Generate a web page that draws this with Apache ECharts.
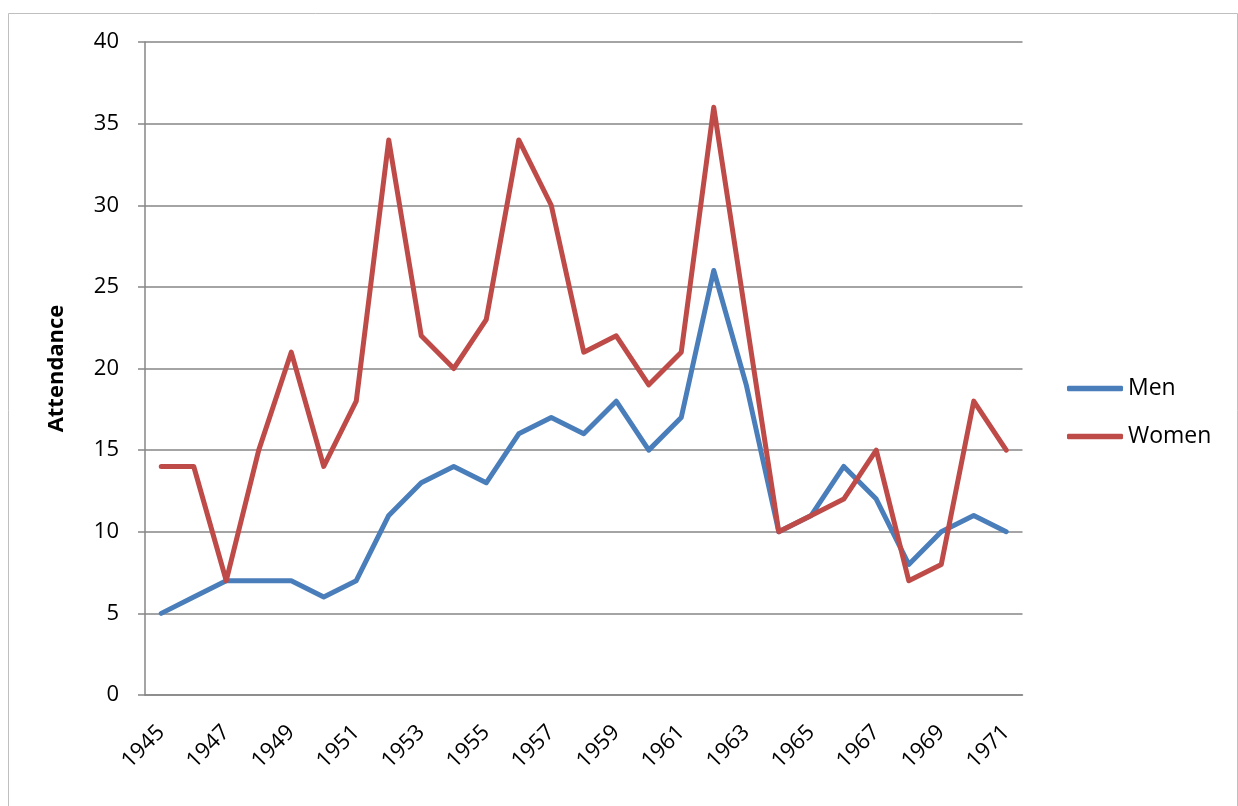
<!DOCTYPE html>
<html>
<head>
<meta charset="utf-8">
<script src="https://cdn.jsdelivr.net/npm/echarts@6/dist/echarts.min.js"></script>
<style>html,body{margin:0;padding:0;background:#fff}#c{width:1238px;height:806px}</style>
</head>
<body>
<div id="c"></div>
<script>
const years = ['1945','1946','1947','1948','1949','1950','1951','1952','1953','1954','1955','1956','1957','1958','1959','1960','1961','1962','1963','1964','1965','1966','1967','1968','1969','1970','1971'];
const men =   [5, 6, 7, 7, 7, 6, 7, 11, 13, 14, 13, 16, 17, 16, 18, 15, 17, 26, 19, 10, 11, 14, 12, 8, 10, 11, 10];
const women = [14, 14, 7, 15, 21, 14, 18, 34, 22, 20, 23, 34, 30, 21, 22, 19, 21, 36, 23, 10, 11, 12, 15, 7, 8, 18, 15];
const yTicks = [0, 5, 10, 15, 20, 25, 30, 35, 40];

const FONT = 'Open Sans';
const chart = echarts.init(document.getElementById('c'));
chart.setOption({
  animation: false,
  backgroundColor: '#fff',
  graphic: [{
    type: 'rect', shape: {x: 8.5, y: 13.5, width: 1229, height: 820},
    style: {fill: 'none', stroke: '#bfbfbf', lineWidth: 1}, silent: true
  }],
  grid: {left: 145, right: 215.5, top: 42, bottom: 111},
  legend: {
    orient: 'vertical', left: 1067, top: 377, itemGap: 25, padding: 0,
    itemWidth: 56, itemHeight: 5.5, icon: 'roundRect',
    textStyle: {fontFamily: FONT, fontSize: 23, color: '#000'},
    data: ['Men', 'Women']
  },
  xAxis: {
    type: 'category', data: years, boundaryGap: true,
    axisLine: {lineStyle: {color: '#868686', width: 1.5}},
    axisTick: {interval: 1, length: 7, lineStyle: {color: '#868686', width: 1.5}},
    axisLabel: {interval: 1, rotate: 45, margin: 34, fontFamily: FONT, fontSize: 22, color: '#000'},
    splitLine: {show: false}
  },
  yAxis: {
    type: 'value', min: yTicks[0], max: yTicks[yTicks.length - 1], interval: 5,
    name: 'Attendance', nameLocation: 'middle', nameGap: 77, nameRotate: 90,
    nameTextStyle: {fontFamily: FONT, fontSize: 22, fontWeight: 'bold', color: '#000'},
    axisLine: {show: true, lineStyle: {color: '#868686', width: 1.5}},
    axisTick: {show: true, length: 7, lineStyle: {color: '#868686', width: 1.5}},
    axisLabel: {margin: 26, fontFamily: FONT, fontSize: 22, color: '#000'},
    splitLine: {lineStyle: {color: '#868686', width: 1.5}}
  },
  series: [
    {name: 'Men', type: 'line', data: men, symbol: 'none', color: '#4A7EBB',
     lineStyle: {width: 5, color: '#4A7EBB', cap: 'round', join: 'round'}},
    {name: 'Women', type: 'line', data: women, symbol: 'none', color: '#BE4B48',
     lineStyle: {width: 5, color: '#BE4B48', cap: 'round', join: 'round'}}
  ]
});
</script>
</body>
</html>
